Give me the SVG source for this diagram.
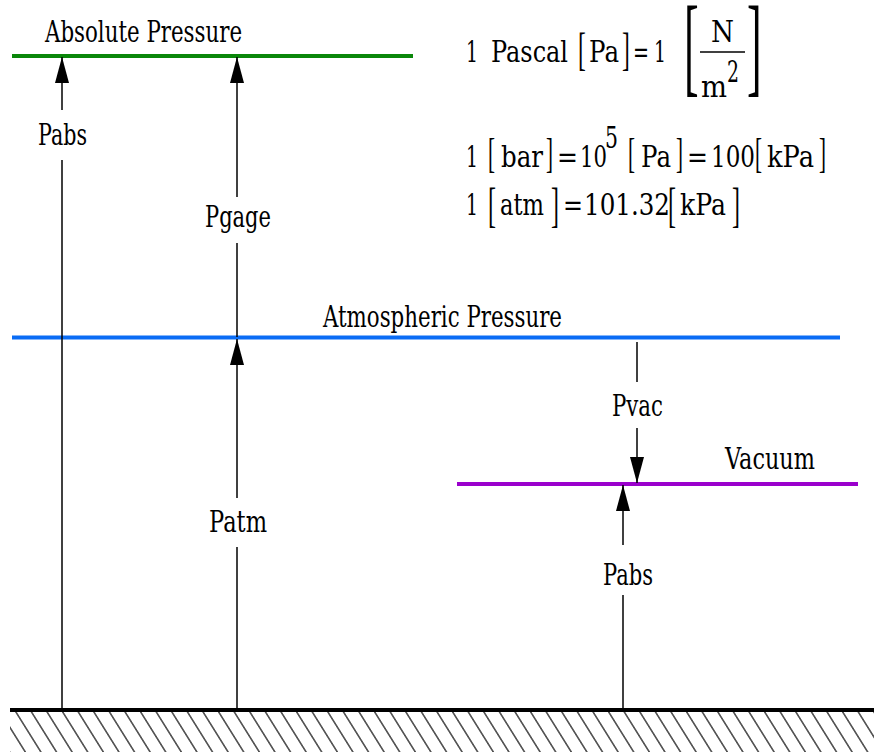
<svg xmlns="http://www.w3.org/2000/svg" width="874" height="752" viewBox="0 0 874 752">
<style>
.t{font-family:"DejaVu Serif","Liberation Serif",serif;font-size:30px;fill:#000}
.br{font-family:"Liberation Serif","Times New Roman",serif;fill:#000}
.c{stroke:#000;stroke-width:1.5;fill:none}
</style>
<defs>
<marker id="ah" viewBox="0 0 26 14" refX="26" refY="7" markerWidth="26" markerHeight="14" markerUnits="userSpaceOnUse" orient="auto">
<path d="M0,0 L26,7 L0,14 z" fill="#000"/>
</marker>
<pattern id="hatch" patternUnits="userSpaceOnUse" width="15.6" height="10" patternTransform="skewX(32)">
<line x1="7.8" y1="-1" x2="7.8" y2="11" stroke="#000" stroke-width="1.3"/>
</pattern>
</defs>
<rect width="874" height="752" fill="#fff"/>

<g id="absolute-pressure">
<line x1="12" y1="56" x2="413" y2="56" stroke="#0a870a" stroke-width="4"/>
<text class="t" x="45" y="42" textLength="197" lengthAdjust="spacingAndGlyphs">Absolute Pressure</text>
</g>

<g id="atmospheric-pressure">
<line x1="12" y1="337.5" x2="840" y2="337.5" stroke="#0a6cf5" stroke-width="4"/>
<text class="t" x="323" y="327" textLength="239" lengthAdjust="spacingAndGlyphs">Atmospheric Pressure</text>
</g>

<g id="vacuum">
<line x1="457" y1="484" x2="858" y2="484" stroke="#9a00cc" stroke-width="4"/>
<text class="t" x="725" y="469" textLength="90" lengthAdjust="spacingAndGlyphs">Vacuum</text>
</g>

<g id="ground">
<rect x="10" y="711" width="864" height="41" fill="url(#hatch)"/>
<line x1="10" y1="710" x2="874" y2="710" stroke="#000" stroke-width="4"/>
</g>

<g id="formulas">
<text class="t" x="466" y="62" textLength="12" lengthAdjust="spacingAndGlyphs">1</text>
<text class="t" x="491" y="62" textLength="77" lengthAdjust="spacingAndGlyphs">Pascal</text>
<text class="br" font-size="47" transform="translate(578,65) scale(0.5,1)">[</text>
<text class="t" x="589" y="62" textLength="30" lengthAdjust="spacingAndGlyphs">Pa</text>
<text class="br" font-size="47" transform="translate(622,65) scale(0.5,1)">]</text>
<text class="t" x="633" y="62" textLength="16" lengthAdjust="spacingAndGlyphs">=</text>
<text class="t" x="654" y="62" textLength="12" lengthAdjust="spacingAndGlyphs">1</text>
<text class="br" font-size="110" transform="translate(684,81.5) scale(0.4,1)">[</text>
<text class="t" font-size="26" x="711" y="42" textLength="23" lengthAdjust="spacingAndGlyphs">N</text>
<line x1="700" y1="52" x2="745" y2="52" stroke="#000" stroke-width="1.5"/>
<text class="t" font-size="26" x="701" y="97" textLength="26" lengthAdjust="spacingAndGlyphs">m</text>
<text class="t" font-size="20" x="727" y="82" textLength="12" lengthAdjust="spacingAndGlyphs">2</text>
<text class="br" font-size="110" transform="translate(747,81.5) scale(0.4,1)">]</text>

<text class="t" x="466" y="167" textLength="12" lengthAdjust="spacingAndGlyphs">1</text>
<text class="br" font-size="42" transform="translate(488,166.7) scale(0.5,1)">[</text>
<text class="t" x="501" y="167" textLength="42" lengthAdjust="spacingAndGlyphs">bar</text>
<text class="br" font-size="42" transform="translate(546,166.7) scale(0.5,1)">]</text>
<text class="t" x="557" y="167" textLength="21" lengthAdjust="spacingAndGlyphs">=</text>
<text class="t" x="580" y="167" textLength="27" lengthAdjust="spacingAndGlyphs">10</text>
<text class="t" x="605" y="148" textLength="13" lengthAdjust="spacingAndGlyphs">5</text>
<text class="br" font-size="42" transform="translate(628,166.7) scale(0.5,1)">[</text>
<text class="t" x="641" y="167" textLength="30" lengthAdjust="spacingAndGlyphs">Pa</text>
<text class="br" font-size="42" transform="translate(676,166.7) scale(0.5,1)">]</text>
<text class="t" x="687" y="167" textLength="21" lengthAdjust="spacingAndGlyphs">=</text>
<text class="t" x="711" y="167" textLength="44" lengthAdjust="spacingAndGlyphs">100</text>
<text class="br" font-size="42" transform="translate(755,166.7) scale(0.5,1)">[</text>
<text class="t" x="767" y="167" textLength="47" lengthAdjust="spacingAndGlyphs">kPa</text>
<text class="br" font-size="42" transform="translate(819,166.7) scale(0.5,1)">]</text>

<text class="t" x="466" y="215" textLength="12" lengthAdjust="spacingAndGlyphs">1</text>
<text class="br" font-size="48" transform="translate(488,220.8) scale(0.5,1)">[</text>
<text class="t" x="500" y="215" textLength="44" lengthAdjust="spacingAndGlyphs">atm</text>
<text class="br" font-size="48" transform="translate(551,220.8) scale(0.5,1)">]</text>
<text class="t" x="563" y="215" textLength="20" lengthAdjust="spacingAndGlyphs">=</text>
<text class="t" x="584" y="215" textLength="86" lengthAdjust="spacingAndGlyphs">101.32</text>
<text class="br" font-size="48" transform="translate(668,220.8) scale(0.5,1)">[</text>
<text class="t" x="680" y="215" textLength="46" lengthAdjust="spacingAndGlyphs">kPa</text>
<text class="br" font-size="48" transform="translate(732,220.8) scale(0.5,1)">]</text>
</g>

<g id="connectors">
<line class="c" x1="62" y1="712" x2="62" y2="160"/>
<line class="c" x1="62" y1="110" x2="62" y2="57" marker-end="url(#ah)"/>
<text class="t" x="38" y="145" textLength="49" lengthAdjust="spacingAndGlyphs">Pabs</text>

<line class="c" x1="237" y1="337" x2="237" y2="243"/>
<line class="c" x1="237" y1="197" x2="237" y2="57" marker-end="url(#ah)"/>
<text class="t" x="205" y="227" textLength="66" lengthAdjust="spacingAndGlyphs">Pgage</text>

<line class="c" x1="237" y1="712" x2="237" y2="547"/>
<line class="c" x1="237" y1="498" x2="237" y2="339" marker-end="url(#ah)"/>
<text class="t" x="209" y="532" textLength="58" lengthAdjust="spacingAndGlyphs">Patm</text>

<line class="c" x1="623" y1="710" x2="623" y2="595"/>
<line class="c" x1="623" y1="545" x2="623" y2="485" marker-end="url(#ah)"/>
<text class="t" x="603" y="585" textLength="50" lengthAdjust="spacingAndGlyphs">Pabs</text>

<line class="c" x1="637" y1="342" x2="637" y2="382"/>
<line class="c" x1="637" y1="428" x2="637" y2="483" marker-end="url(#ah)"/>
<text class="t" x="612" y="416" textLength="51" lengthAdjust="spacingAndGlyphs">Pvac</text>
</g>
</svg>
